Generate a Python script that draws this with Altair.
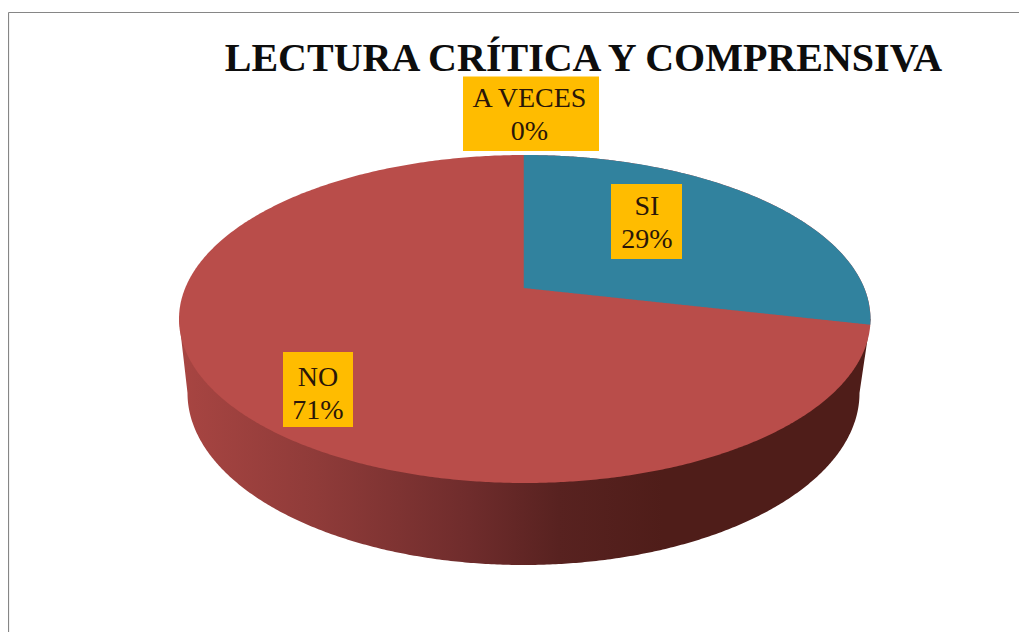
import numpy as np
import pandas as pd
import altair as alt

# --- data ---
TITLE = "LECTURA CRÍTICA Y COMPRENSIVA"
categories = ["SI", "NO", "A VECES"]
counts = [2, 5, 0]

# --- layout of the tilted pie (picture units) ---
TOP_Y, BOTTOM_Y, LEFT_X, RIGHT_X, APEX_Y = 155.0, 483.0, 179.0, 870.5, 288.0
BASE_CX, BASE_CY, BASE_RX, BASE_RY = 523.5, 393.0, 336.0, 172.0
LABEL_X = [647.0, 318.0, 529.5]
LABEL_Y = [215.0, 386.0, 107.0]
BOX_X = [(611, 682), (283, 353), (463, 599)]
BOX_Y = [(184, 259), (352, 427), (76.5, 151)]

RED, BLUE, GOLD = "#b94d4a", "#31829e", "#ffbc00"

cx = (LEFT_X + RIGHT_X) / 2
cy = (TOP_Y + BOTTOM_Y) / 2
rx = (RIGHT_X - LEFT_X) / 2
ry = (BOTTOM_Y - TOP_Y) / 2

# perspective map of the unit disc onto the ellipse: (a v + b) / (c v + 1) through v = 1, 0, -1
b = APEX_Y
c = (TOP_Y + BOTTOM_Y - 2 * b) / (BOTTOM_Y - TOP_Y)
a = TOP_Y * (c + 1) - b
k = rx * np.sqrt(1 - c ** 2)


def project(theta):
    u, v = np.sin(theta), np.cos(theta)
    return cx + k * u / (c * v + 1), (a * v + b) / (c * v + 1)


def upper(x):
    return cy - ry * np.sqrt(np.clip(1 - ((x - cx) / rx) ** 2, 0, 1))


def lower(x):
    return cy + ry * np.sqrt(np.clip(1 - ((x - cx) / rx) ** 2, 0, 1))


share = counts[0] / sum(counts)
end_x, end_y = project(2 * np.pi * share)
apex_x, apex_y = cx - 1.0, APEX_Y

# whole top face
phi = np.linspace(np.pi, 0, 361)
xs = cx + rx * np.cos(phi)
face = pd.DataFrame({"x": xs, "y": upper(xs), "y2": lower(xs)})

# slice SI, from the vertical edge round to its share
xw = np.unique(np.concatenate([
    np.linspace(apex_x, end_x, 240),
    cx + rx * np.cos(np.linspace(np.arccos((end_x - cx) / rx), 0, 30)),
]))
edge = np.where(xw <= end_x,
                apex_y + (end_y - apex_y) * (xw - apex_x) / (end_x - apex_x),
                lower(xw))
wedge = pd.DataFrame({"x": xw, "y": upper(xw), "y2": edge})

# rim of the pie: silhouette down to the smaller base ellipse
base_left, base_right = BASE_CX - BASE_RX, BASE_CX + BASE_RX
xr = np.concatenate([
    np.linspace(LEFT_X, base_left, 12),
    BASE_CX + BASE_RX * np.cos(np.linspace(np.pi, 0, 361))[1:-1],
    np.linspace(base_right, RIGHT_X, 12),
])
yr = np.where(
    xr < base_left, cy + (BASE_CY - cy) * (xr - LEFT_X) / (base_left - LEFT_X),
    np.where(xr > base_right,
             BASE_CY + (cy - BASE_CY) * (xr - base_right) / (RIGHT_X - base_right),
             BASE_CY + BASE_RY * np.sqrt(np.clip(1 - ((xr - BASE_CX) / BASE_RX) ** 2, 0, 1))))
rim = pd.DataFrame({"x": xr, "y": np.full_like(xr, cy), "y2": yr})

XS = alt.Scale(domain=[8, 1019], nice=False, zero=False)
YS = alt.Scale(domain=[632, 8], nice=False, zero=False)
X = alt.X("x:Q", scale=XS, axis=None)
Y = alt.Y("y:Q", scale=YS, axis=None)

gradient = alt.LinearGradient(
    gradient="linear", x1=0, x2=1, y1=0, y2=0,
    stops=[
        alt.GradientStop(color="#a84542", offset=0.0),
        alt.GradientStop(color="#8f3b39", offset=0.2),
        alt.GradientStop(color="#6f2c2c", offset=0.42),
        alt.GradientStop(color="#582220", offset=0.55),
        alt.GradientStop(color="#4f1d19", offset=0.7),
        alt.GradientStop(color="#4f1d19", offset=1.0),
    ],
)

rim_layer = alt.Chart(rim).mark_area(fill=gradient, interpolate="linear").encode(x=X, y=Y, y2="y2:Q")
face_layer = alt.Chart(face).mark_area(color=RED).encode(x=X, y=Y, y2="y2:Q")
wedge_layer = alt.Chart(wedge).mark_area(color=BLUE).encode(x=X, y=Y, y2="y2:Q")

frame_h = alt.Chart(pd.DataFrame({"x": [8.5], "x2": [1019], "y": [12.5]})).mark_rule(
    color="#868686", strokeWidth=1.2).encode(x=X, x2="x2:Q", y=Y)
frame_v = alt.Chart(pd.DataFrame({"x": [8.5], "y": [12.5], "y2": [632]})).mark_rule(
    color="#868686", strokeWidth=1.2).encode(x=X, y=Y, y2="y2:Q")

total = sum(counts)
labels = pd.DataFrame({
    "text": [f"{n}\n{round(100 * v / total)}%" for n, v in zip(categories, counts)],
    "x": LABEL_X,
    "y": LABEL_Y,
    "bx": [b_[0] for b_ in BOX_X],
    "bx2": [b_[1] for b_ in BOX_X],
    "by": [b_[0] for b_ in BOX_Y],
    "by2": [b_[1] for b_ in BOX_Y],
})
boxes = alt.Chart(labels).mark_rect(color=GOLD).encode(
    x=alt.X("bx:Q", scale=XS, axis=None), x2="bx2:Q",
    y=alt.Y("by:Q", scale=YS, axis=None), y2="by2:Q")
texts = alt.Chart(labels).mark_text(
    font="Liberation Serif", fontSize=28, color="#2a1608", align="center",
    baseline="alphabetic", lineBreak="\n", lineHeight=32.5).encode(
    x=X, y=Y, text="text:N")

title = alt.Chart(pd.DataFrame({"x": [583.5], "y": [71.0], "t": [TITLE]})).mark_text(
    font="Liberation Serif", fontSize=40, fontWeight="bold", color="#0d0d0d",
    align="center", baseline="alphabetic").encode(x=X, y=Y, text="t:N")

chart = alt.layer(frame_h, frame_v, rim_layer, face_layer, wedge_layer, boxes, texts, title).properties(
    width=1011, height=624, padding=0, autosize="none", background="#ffffff"
).configure_view(stroke=None)

chart.save("out.html", embed_options={"renderer": "svg", "actions": False})
